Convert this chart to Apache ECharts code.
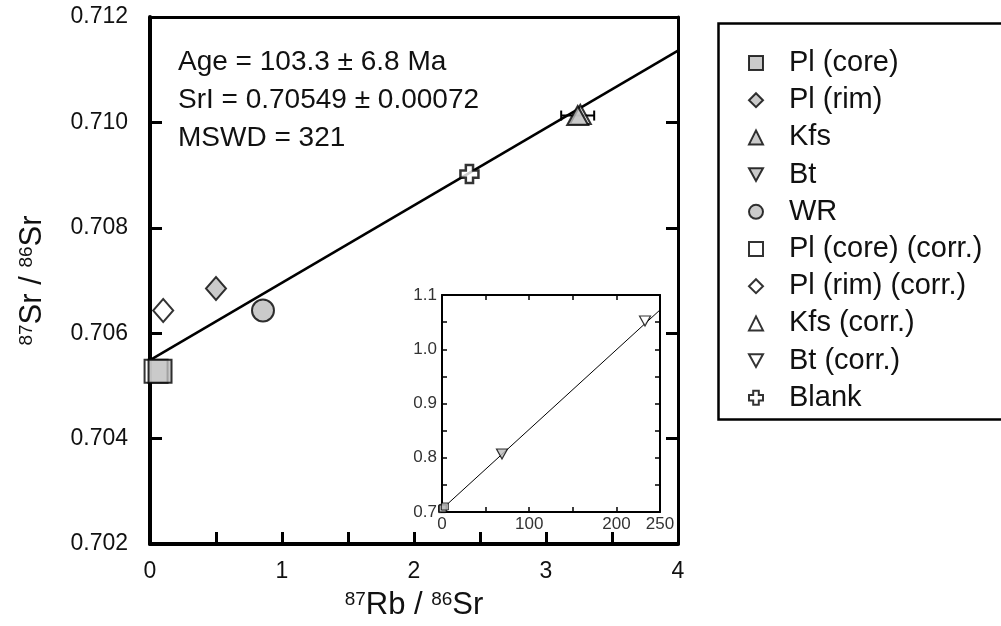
<!DOCTYPE html>
<html><head><meta charset="utf-8">
<script src="https://cdn.jsdelivr.net/npm/echarts@6/dist/echarts.min.js"></script>
<style>html,body{margin:0;padding:0;background:#fff}#c{width:1001px;height:626px}</style>
</head><body><div id="c"></div>
<script>
// ---- data ----
const xTicksMain = [0, 1, 2, 3, 4];
const yTicksMain = [0.702, 0.704, 0.706, 0.708, 0.710, 0.712];
const insetXLabels = [0, 100, 200, 250];
const insetYLabels = [0.7, 0.8, 0.9, 1.0, 1.1];

const plCore     = [[0.076, 0.70528]];
const plRim      = [[0.50, 0.70685]];
const kfs        = [[3.24, 0.71013]];
const kfsErr     = [[3.24, 0.71013, 0.125]];
const bt         = [[68.8, 0.807]];
const wr         = [[0.856, 0.70643]];
const plCoreCorr = [[0.046, 0.70528]];
const plRimCorr  = [[0.10, 0.70643]];
const kfsCorr    = [[3.26, 0.71015]];
const btCorr     = [[232.8, 1.052]];
const blank      = [[2.42, 0.70902]];

const ageMa = 103.3, ageErr = 6.8;
const srI = 0.70549, srIErr = 0.00072;
const mswd = 321;
const lambdaRb = 1.42e-11;
const slope = Math.exp(lambdaRb * ageMa * 1e6) - 1;
const isoMain  = [[0, srI], [4, srI + 4 * slope]];
const isoInset = [[0, srI], [250, srI + 250 * slope]];

// ---- styling ----
const FONT = "'Liberation Sans', Arial, sans-serif";
const GRAY = '#bdbdbd';
const plusPath = 'path://M3,0 H7 V3 H10 V7 H7 V10 H3 V7 H0 V3 H3 Z';
const downTri = 'path://M0,0 L10,0 L5,9 Z';

function filled(color){ return {color: color, borderColor:'#000', borderWidth:2}; }
function open(){ return {color:'#fff', borderColor:'#000', borderWidth:2}; }

const chart = echarts.init(document.getElementById('c'), null, {renderer:'canvas'});

const axisCommon = {
  splitLine:{show:false},
  axisLine:{show:true, onZero:false, lineStyle:{color:'#000', width:4}},
};

const option = {
  animation:false,
  backgroundColor:'#fff',
  textStyle:{fontFamily:FONT},
  grid:[
    {left:150, top:17, width:528, height:530, containLabel:false},
    {left:442, top:295, width:218, height:217, containLabel:false, show:true, backgroundColor:'#fff', borderWidth:0}
  ],
  xAxis:[
    Object.assign({}, axisCommon, {
      gridIndex:0, type:'value', position:'bottom', min:0, max:4, interval:0.5,
      axisTick:{show:true, inside:true, length:12, lineStyle:{color:'#000', width:3}},
      axisLabel:{color:'#111', fontSize:23, fontFamily:FONT, margin:16,
        formatter:v => xTicksMain.includes(v) ? String(v) : ''},
      name:'{sup|87}{b|Rb / }{sup|86}{b|Sr}', nameLocation:'middle', nameGap:46,
      nameTextStyle:{rich:{
        b:{fontSize:31, fontFamily:FONT, color:'#111'},
        sup:{fontSize:19, fontFamily:FONT, color:'#111', verticalAlign:'top', padding:[0,0,12,0]}}}
    }),
    Object.assign({}, axisCommon, {
      gridIndex:0, type:'value', position:'top', min:0, max:4, interval:0.5,
      axisLine:{show:true, onZero:false, lineStyle:{color:'#000', width:3}},
      axisTick:{show:false}, axisLabel:{show:false}
    }),
    {
      gridIndex:1, type:'value', position:'bottom', min:0, max:250, interval:50,
      splitLine:{show:false},
      axisLine:{show:true, onZero:false, lineStyle:{color:'#000', width:2}},
      axisTick:{show:true, inside:true, length:5, lineStyle:{color:'#000', width:1.5}},
      axisLabel:{color:'#333', fontSize:17, fontFamily:FONT, margin:4,
        formatter:v => insetXLabels.includes(v) ? String(v) : ''}
    },
    {
      gridIndex:1, type:'value', position:'top', min:0, max:250, interval:50,
      splitLine:{show:false},
      axisLine:{show:true, onZero:false, lineStyle:{color:'#000', width:2}},
      axisTick:{show:true, inside:true, length:5, lineStyle:{color:'#000', width:1.5}},
      axisLabel:{show:false}
    }
  ],
  yAxis:[
    Object.assign({}, axisCommon, {
      gridIndex:0, type:'value', position:'left', min:0.702, max:0.712, interval:0.002,
      axisTick:{show:true, inside:true, length:12, lineStyle:{color:'#000', width:3}},
      axisLabel:{color:'#111', fontSize:23, fontFamily:FONT, margin:22,
        formatter:v => yTicksMain.some(t => Math.abs(t - v) < 1e-9) ? v.toFixed(3) : ''},
      name:'{sup|87}{b|Sr / }{sup|86}{b|Sr}', nameLocation:'middle', nameGap:102, nameRotate:90,
      nameTextStyle:{rich:{
        b:{fontSize:31, fontFamily:FONT, color:'#111'},
        sup:{fontSize:19, fontFamily:FONT, color:'#111', verticalAlign:'top', padding:[0,0,12,0]}}}
    }),
    Object.assign({}, axisCommon, {
      gridIndex:0, type:'value', position:'right', min:0.702, max:0.712, interval:0.002,
      axisLine:{show:true, onZero:false, lineStyle:{color:'#000', width:3}},
      axisTick:{show:true, inside:true, length:12, lineStyle:{color:'#000', width:3}},
      axisLabel:{show:false}
    }),
    {
      gridIndex:1, type:'value', position:'left', min:0.7, max:1.1, interval:0.05,
      splitLine:{show:false},
      axisLine:{show:true, onZero:false, lineStyle:{color:'#000', width:2}},
      axisTick:{show:true, inside:true, length:5, lineStyle:{color:'#000', width:1.5}},
      axisLabel:{color:'#333', fontSize:17, fontFamily:FONT, margin:5,
        formatter:v => insetYLabels.some(t => Math.abs(t - v) < 1e-9) ? v.toFixed(1) : ''}
    },
    {
      gridIndex:1, type:'value', position:'right', min:0.7, max:1.1, interval:0.05,
      splitLine:{show:false},
      axisLine:{show:true, onZero:false, lineStyle:{color:'#000', width:2}},
      axisTick:{show:true, inside:true, length:5, lineStyle:{color:'#000', width:1.5}},
      axisLabel:{show:false}
    }
  ],
  legend:{
    orient:'vertical', left:743, top:43, itemGap:7.2,
    itemWidth:14, itemHeight:14,
    textStyle:{fontSize:29, fontFamily:FONT, color:'#111', lineHeight:30, padding:[0,0,0,21]},
    data:['Pl (core)','Pl (rim)','Kfs','Bt','WR','Pl (core) (corr.)','Pl (rim) (corr.)','Kfs (corr.)','Bt (corr.)','Blank']
  },
  graphic:[
    {type:'rect', left:716, top:21, shape:{width:300, height:396}, style:{fill:'none', stroke:'#000', lineWidth:2.5}, z:0},
    {type:'text', left:178, top:48, z:10, style:{text:'Age = ' + ageMa.toFixed(1) + ' ± ' + ageErr.toFixed(1) + ' Ma', font:'28px ' + FONT, fill:'#111'}},
    {type:'text', left:178, top:86, z:10, style:{text:'SrI = ' + srI.toFixed(5) + ' ± ' + srIErr.toFixed(5), font:'28px ' + FONT, fill:'#111'}},
    {type:'text', left:178, top:124, z:10, style:{text:'MSWD = ' + mswd, font:'28px ' + FONT, fill:'#111'}}
  ],
  series:[
    {type:'line', xAxisIndex:0, yAxisIndex:0, data:isoMain, symbol:'none', silent:true,
      lineStyle:{color:'#000', width:2.5}, z:1},
    {type:'custom', xAxisIndex:0, yAxisIndex:0, data:kfsErr, z:2, silent:true,
      renderItem:function(params, api){
        const x = api.value(0), y = api.value(1), e = api.value(2);
        const p1 = api.coord([x - e, y]), p2 = api.coord([x + e, y]);
        const c = 5;
        const st = {stroke:'#000', lineWidth:2};
        return {type:'group', children:[
          {type:'line', shape:{x1:p1[0], y1:p1[1], x2:p2[0], y2:p2[1]}, style:st},
          {type:'line', shape:{x1:p1[0], y1:p1[1]-c, x2:p1[0], y2:p1[1]+c}, style:st},
          {type:'line', shape:{x1:p2[0], y1:p2[1]-c, x2:p2[0], y2:p2[1]+c}, style:st}
        ]};
      }},
    {name:'Pl (core) (corr.)', type:'scatter', xAxisIndex:0, yAxisIndex:0, data:plCoreCorr, symbol:'rect', symbolSize:23, itemStyle:open(), z:3},
    {name:'Pl (rim) (corr.)', type:'scatter', xAxisIndex:0, yAxisIndex:0, data:plRimCorr, symbol:'diamond', symbolSize:[20,23], itemStyle:open(), z:3},
    {name:'Kfs (corr.)', type:'scatter', xAxisIndex:0, yAxisIndex:0, data:kfsCorr, symbol:'triangle', symbolSize:[21,19], itemStyle:open(), z:3},
    {name:'Bt (corr.)', type:'scatter', xAxisIndex:2, yAxisIndex:2, data:btCorr, symbol:downTri, symbolSize:[11,10], itemStyle:{color:'#fff', borderColor:'#000', borderWidth:1.2}, z:3},
    {name:'Blank', type:'scatter', xAxisIndex:0, yAxisIndex:0, data:blank, symbol:plusPath, symbolSize:18, itemStyle:{color:'#fff', borderColor:'#000', borderWidth:2.5}, z:5},
    {name:'Pl (core)', type:'scatter', xAxisIndex:0, yAxisIndex:0, data:plCore, symbol:'rect', symbolSize:23, itemStyle:filled(GRAY), z:4},
    {name:'Pl (rim)', type:'scatter', xAxisIndex:0, yAxisIndex:0, data:plRim, symbol:'diamond', symbolSize:[20,23], itemStyle:filled(GRAY), z:4},
    {name:'Kfs', type:'scatter', xAxisIndex:0, yAxisIndex:0, data:kfs, symbol:'triangle', symbolSize:[21,19], itemStyle:filled(GRAY), z:4},
    {name:'Bt', type:'scatter', xAxisIndex:2, yAxisIndex:2, data:bt, symbol:downTri, symbolSize:[11,10], itemStyle:{color:GRAY, borderColor:'#000', borderWidth:1.2}, z:4},
    {name:'WR', type:'scatter', xAxisIndex:0, yAxisIndex:0, data:wr, symbol:'circle', symbolSize:22, itemStyle:filled(GRAY), z:4},
    {type:'line', xAxisIndex:2, yAxisIndex:2, data:isoInset, symbol:'none', silent:true, lineStyle:{color:'#000', width:1}, z:2},
    {type:'scatter', xAxisIndex:2, yAxisIndex:2, data:plCore.concat(plRim, wr, kfs), symbol:'rect', symbolSize:7, itemStyle:{color:GRAY, borderColor:'#000', borderWidth:1}, z:3, silent:true}
  ]
};
chart.setOption(option);
</script></body></html>
